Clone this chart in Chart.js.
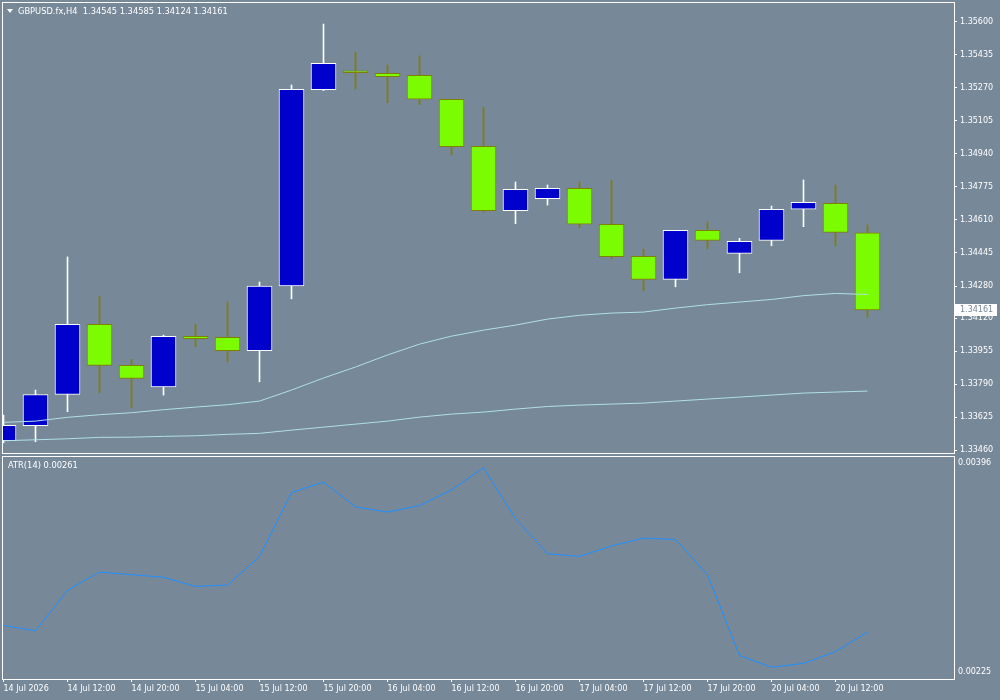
<!DOCTYPE html>
<html>
<head>
<meta charset="utf-8">
<script src="https://cdn.jsdelivr.net/npm/chart.js@4.4.1/dist/chart.umd.min.js"></script>
<style>
  html, body { margin: 0; background: #778899; }
  body { width: 1000px; height: 700px; overflow: hidden; position: relative; font-family: 'DejaVu Sans', sans-serif; }
  #main { position: absolute; left: 0; top: 0; }
  #atr { position: absolute; left: 0; top: 455px; }
  .lbl { position: absolute; color: #fff; font-size: 8.3px; line-height: 10px; white-space: pre; }
  #arrow { position: absolute; left: 7px; top: 9px; width: 0; height: 0; border-left: 3px solid transparent; border-right: 3px solid transparent; border-top: 4px solid #fff; }
</style>
</head>
<body>
<canvas id="main" width="1000" height="455"></canvas>
<canvas id="atr" width="1000" height="245"></canvas>
<div id="arrow"></div>
<div class="lbl" id="title" style="left:18px; top:6px;"></div>
<div class="lbl" id="atrTitle" style="left:8px; top:460px;"></div>
<script>
const symbol = 'GBPUSD.fx,H4';

// x axis labels, one every second H4 bar
const xLabels = ['14 Jul 2026', '14 Jul 12:00', '14 Jul 20:00', '15 Jul 04:00', '15 Jul 12:00', '15 Jul 20:00', '16 Jul 04:00',
  '16 Jul 12:00', '16 Jul 20:00', '17 Jul 04:00', '17 Jul 12:00', '17 Jul 20:00', '20 Jul 04:00', '20 Jul 12:00'];
const xLabelBars = [0, 2, 4, 6, 8, 10, 12, 14, 16, 18, 20, 22, 24, 26];

const opens = [1.33508, 1.33583, 1.33739, 1.34089, 1.33884, 1.33777, 1.34029, 1.34024, 1.33957, 1.34281, 1.35259, 1.35344, 1.35341, 1.35331,
  1.35212, 1.34977, 1.34656, 1.34716, 1.34767, 1.34588, 1.34428, 1.34313, 1.34558, 1.34443, 1.34508, 1.34663, 1.34693, 1.34545];
const highs = [1.33636, 1.33761, 1.34425, 1.34230, 1.33914, 1.34035, 1.34090, 1.34200, 1.34300, 1.35283, 1.35587, 1.35448, 1.35383, 1.35428,
  1.35212, 1.35173, 1.34799, 1.34784, 1.34799, 1.34809, 1.34463, 1.34558, 1.34599, 1.34518, 1.34679, 1.34809, 1.34784, 1.34585];
const lows = [1.33498, 1.33503, 1.33653, 1.33747, 1.33673, 1.33736, 1.33977, 1.33902, 1.33802, 1.34216, 1.35255, 1.35263, 1.35195, 1.35185,
  1.34934, 1.34649, 1.34591, 1.34684, 1.34571, 1.34416, 1.34256, 1.34276, 1.34465, 1.34346, 1.34481, 1.34576, 1.34481, 1.34124];
const closes = [1.33585, 1.33739, 1.34089, 1.33884, 1.33819, 1.34029, 1.34017, 1.33957, 1.34280, 1.35261, 1.35391, 1.35344, 1.35324, 1.35212,
  1.34975, 1.34656, 1.34762, 1.34767, 1.34588, 1.34426, 1.34313, 1.34558, 1.34508, 1.34503, 1.34663, 1.34698, 1.34548, 1.34161];

const maFast = [1.33600, 1.33606, 1.33625, 1.33638, 1.33648, 1.33663, 1.33676, 1.33688, 1.33706, 1.33761, 1.33821, 1.33876, 1.33936, 1.33990,
  1.34030, 1.34060, 1.34085, 1.34115, 1.34134, 1.34145, 1.34150, 1.34170, 1.34187, 1.34200, 1.34213, 1.34232, 1.34243, 1.34238];
const maSlow = [1.33508, 1.33513, 1.33518, 1.33525, 1.33526, 1.33530, 1.33533, 1.33540, 1.33545, 1.33561, 1.33576, 1.33591, 1.33606, 1.33626,
  1.33641, 1.33651, 1.33666, 1.33679, 1.33686, 1.33691, 1.33696, 1.33706, 1.33716, 1.33726, 1.33736, 1.33746, 1.33751, 1.33756];

const atr = [0.00266, 0.00262, 0.00293, 0.00307, 0.00305, 0.00303, 0.00296, 0.00297, 0.00319, 0.00368, 0.00376, 0.00357, 0.00353, 0.00358,
  0.00370, 0.00387, 0.00348, 0.00321, 0.00319, 0.00327, 0.00333, 0.00332, 0.00305, 0.00243, 0.00234, 0.00237, 0.00246, 0.00261];

const priceTicks = [1.35600, 1.35435, 1.35270, 1.35105, 1.34940, 1.34775, 1.34610, 1.34445, 1.34280, 1.34120, 1.33955, 1.33790, 1.33625, 1.33460];
const priceMin = 1.33447, priceMax = 1.35697;
const atrTicks = [0.00396, 0.00225];

const last = closes.length - 1;
const bars = opens.map((o, i) => i);
const bull = bars.map(i => closes[i] > opens[i]);
const xMin = -1.5 / 32, xMax = xMin + 952 / 32;
const font = { family: 'DejaVu Sans', size: 8 };

document.getElementById('title').textContent = symbol + '  ' +
  [opens[last], highs[last], lows[last], closes[last]].map(v => v.toFixed(5)).join(' ');
document.getElementById('atrTitle').textContent = 'ATR(14) ' + atr[last].toFixed(5);

const panelBorder = {
  id: 'panelBorder',
  afterDraw(chart) {
    const a = chart.chartArea, ctx = chart.ctx;
    ctx.save();
    ctx.strokeStyle = '#fff';
    ctx.lineWidth = 1;
    ctx.strokeRect(a.left + 0.5, a.top + 0.5, a.right - a.left, a.bottom - a.top);
    ctx.restore();
  }
};

const priceBox = {
  id: 'priceBox',
  afterDraw(chart) {
    const s = chart.scales.y, ctx = chart.ctx;
    const y = s.getPixelForValue(closes[last]);
    ctx.save();
    ctx.fillStyle = '#fff';
    ctx.fillRect(s.left + 1, Math.round(y) - 6, 42, 12);
    ctx.fillStyle = '#778899';
    ctx.font = '8px "DejaVu Sans"';
    ctx.textBaseline = 'middle';
    ctx.fillText(closes[last].toFixed(5), s.left + 6, y);
    ctx.restore();
  }
};

new Chart(document.getElementById('main'), {
  type: 'bar',
  data: {
    datasets: [
      { type: 'line', data: bars.map(i => ({ x: i, y: maFast[i] })), borderColor: '#b0e0e6', borderWidth: 1, pointRadius: 0, order: 0 },
      { type: 'line', data: bars.map(i => ({ x: i, y: maSlow[i] })), borderColor: '#b0e0e6', borderWidth: 1, pointRadius: 0, order: 0 },
      {
        data: bars.map(i => ({ x: i, y: [opens[i], closes[i]] })),
        backgroundColor: bull.map(b => b ? '#0000cd' : '#7cfc00'),
        borderColor: bull.map(b => b ? '#ffffff' : '#808000'),
        borderWidth: 1, borderSkipped: false, barThickness: 25, minBarLength: 2, grouped: false, order: 1
      },
      {
        data: bars.map(i => ({ x: i, y: [lows[i], highs[i]] })),
        backgroundColor: bull.map(b => b ? '#ffffff' : '#808000'),
        barThickness: 1, grouped: false, order: 2
      }
    ]
  },
  options: {
    responsive: false,
    animation: false,
    events: [],
    layout: { padding: { left: 2, top: 2, right: 0, bottom: 2 } },
    plugins: { legend: { display: false }, tooltip: { enabled: false } },
    scales: {
      x: {
        type: 'linear', min: xMin, max: xMax, offset: false,
        afterFit: s => { s.height = 0; s.paddingLeft = 0; s.paddingRight = 0; },
        ticks: { display: false }, grid: { display: false }, border: { display: false }
      },
      y: {
        position: 'right', min: priceMin, max: priceMax,
        afterBuildTicks: s => { s.ticks = priceTicks.map(v => ({ value: v })); },
        afterFit: s => { s.width = 46; s.paddingTop = 0; s.paddingBottom = 0; },
        grid: { drawOnChartArea: false, color: '#fff', tickLength: 3 },
        border: { display: false },
        ticks: { color: '#fff', padding: 3, font: font, autoSkip: false, callback: v => v.toFixed(5) }
      }
    }
  },
  plugins: [panelBorder, priceBox]
});

new Chart(document.getElementById('atr'), {
  type: 'line',
  data: {
    datasets: [
      { data: bars.map(i => ({ x: i, y: atr[i] })), borderColor: '#1e90ff', borderWidth: 1, pointRadius: 0 }
    ]
  },
  options: {
    responsive: false,
    animation: false,
    events: [],
    layout: { padding: { left: 2, top: 1, right: 0, bottom: 0 } },
    plugins: { legend: { display: false }, tooltip: { enabled: false } },
    scales: {
      x: {
        type: 'linear', min: xMin, max: xMax,
        afterBuildTicks: s => { s.ticks = xLabelBars.map(v => ({ value: v })); },
        afterFit: s => { s.height = 21; s.paddingLeft = 0; s.paddingRight = 0; },
        grid: { drawOnChartArea: false, color: '#fff', tickLength: 3 },
        border: { display: false },
        ticks: { color: '#fff', padding: 2, font: font, align: 'start', autoSkip: false, maxRotation: 0, minRotation: 0,
          callback: (v, i) => xLabels[i] }
      },
      y: {
        position: 'right', min: atrTicks[1], max: atrTicks[0],
        afterBuildTicks: s => { s.ticks = atrTicks.map(v => ({ value: v })); },
        afterFit: s => { s.width = 46; s.paddingTop = 0; s.paddingBottom = 0; },
        grid: { drawOnChartArea: false, drawTicks: false },
        border: { display: false },
        ticks: { color: '#fff', padding: 4, font: { family: 'DejaVu Sans', size: 8, lineHeight: 1.7 }, autoSkip: false,
          // top label sits below its level, bottom label above it
          callback: v => v === atrTicks[0] ? ['', v.toFixed(5)] : [v.toFixed(5), ''] }
      }
    }
  },
  plugins: [panelBorder]
});
</script>
</body>
</html>
